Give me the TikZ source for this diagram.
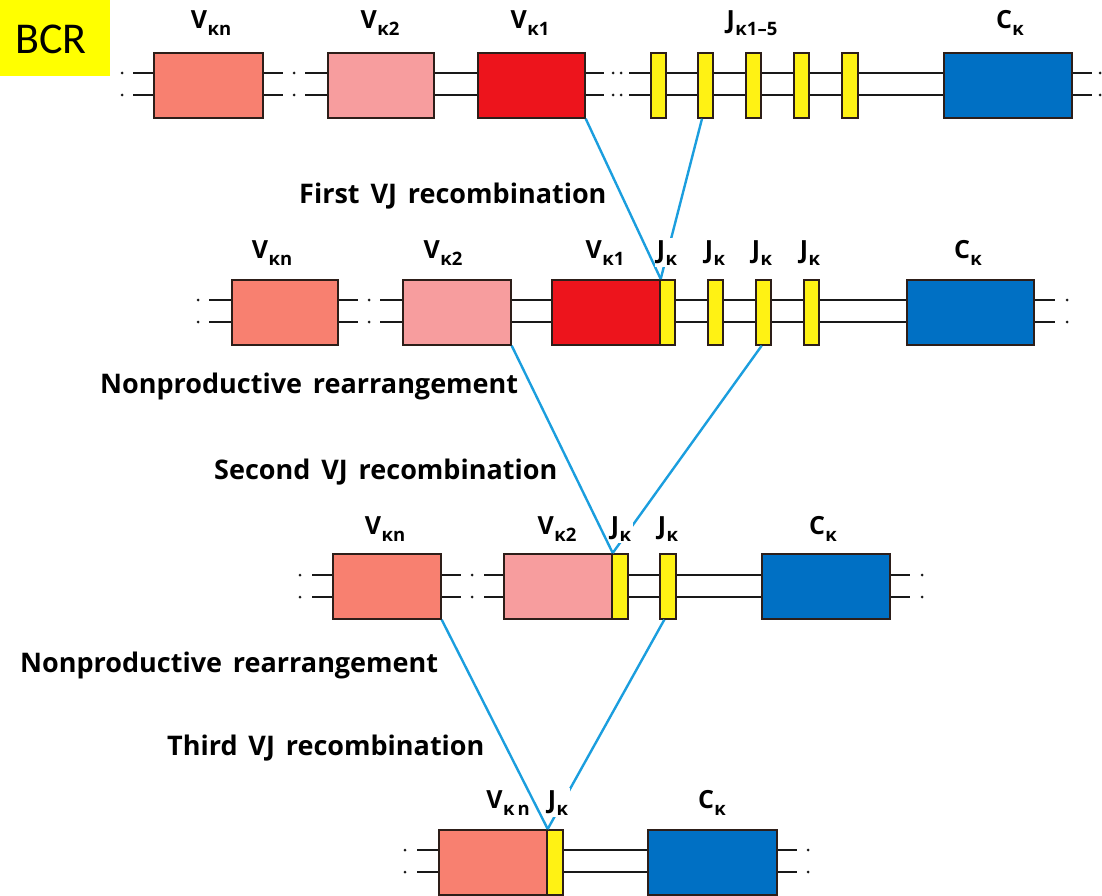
\documentclass[tikz,border=0pt]{standalone}
\usepackage{fontspec}
\setmainfont{Open Sans}
\newfontfamily\capfont[WordSpace=1.55]{Open Sans}
\newfontfamily\bcrfont{Carlito}
\usetikzlibrary{calc}

\definecolor{vnc}{RGB}{248,128,112}
\definecolor{vtwo}{RGB}{247,157,158}
\definecolor{vone}{RGB}{237,20,28}
\definecolor{jyel}{RGB}{255,242,20}
\definecolor{cblue}{RGB}{0,112,196}
\definecolor{recblue}{RGB}{27,158,222}
\definecolor{boxline}{RGB}{45,30,25}
\definecolor{tagyel}{RGB}{255,255,0}

\tikzset{
  gene/.style={draw=boxline, line width=1.7pt, inner sep=0pt, anchor=north west},
  strand/.style={draw=black!90, line width=1.9pt},
  rec/.style={draw=recblue, line width=2.4pt},
  gtxt/.style={font=\fontsize{25}{25}\selectfont\bfseries, inner sep=0.5pt, anchor=base},
  jtxt/.style={gtxt, fill=white, inner sep=2pt},
  phr/.style={font=\capfont\fontsize{27}{27}\selectfont\bfseries, anchor=base west, inner sep=0pt},
}

% gene segment box: name, colour, left, right, top
\newcommand\gbox[5]{\node[gene, fill=#2, minimum width={#4pt-#3pt}, minimum height=65pt] (#1) at (#3,#5) {};}
% gene name with lowered subscript
\newcommand\gsub[2]{#1\kern0.5pt\raisebox{-7pt}{\fontsize{18.5}{18.5}\selectfont #2}}
\newcommand\sdot[2]{\fill[black!90] (#1,#2) circle (1.5pt);}

\begin{document}
\begin{tikzpicture}[x=1pt,y=-1pt]
\useasboundingbox (0,0) rectangle (1102,896);

% ---------- BCR tag ----------
\fill[tagyel] (0,0) rectangle (110,76);
\node[font=\bcrfont\fontsize{44}{44}\selectfont, inner sep=0pt] (tag) at (51,39) {BCR};

% ---------- strands ----------
\foreach \y in {73,95} {
  \sdot{122}{\y}
  \draw[strand] (133,\y) -- (153,\y);
  \draw[strand] (262,\y) -- (283,\y);
  \sdot{294}{\y}
  \draw[strand] (305,\y) -- (327,\y);
  \draw[strand] (433,\y) -- (477,\y);
  \draw[strand] (584,\y) -- (604,\y);
  \sdot{613}{\y}
  \sdot{621}{\y}
  \draw[strand] (629,\y) -- (1092,\y);
  \sdot{1100}{\y}
}
\foreach \y in {300,322} {
  \sdot{198}{\y}
  \draw[strand] (209,\y) -- (231,\y);
  \draw[strand] (337,\y) -- (358,\y);
  \sdot{369}{\y}
  \draw[strand] (380,\y) -- (402,\y);
  \draw[strand] (510,\y) -- (1055,\y);
  \sdot{1067}{\y}
}
\foreach \y in {575,597} {
  \sdot{300}{\y}
  \draw[strand] (312,\y) -- (332,\y);
  \draw[strand] (440,\y) -- (461,\y);
  \sdot{472}{\y}
  \draw[strand] (484,\y) -- (503,\y);
  \draw[strand] (611,\y) -- (910,\y);
  \sdot{922}{\y}
}
\foreach \y in {850,872} {
  \sdot{405}{\y}
  \draw[strand] (417,\y) -- (438,\y);
  \draw[strand] (562,\y) -- (797,\y);
  \sdot{808}{\y}
}

% ---------- germline locus ----------
\gbox{ava}{vnc}{153}{262}{52}
\gbox{avb}{vtwo}{327}{433}{52}
\gbox{avc}{vone}{477}{584}{52}
\gbox{aja}{jyel}{650}{665}{52}
\gbox{ajb}{jyel}{697}{712}{52}
\gbox{ajc}{jyel}{745}{760}{52}
\gbox{ajd}{jyel}{793}{808}{52}
\gbox{aje}{jyel}{841}{857}{52}
\gbox{ac}{cblue}{943}{1071}{52}

% ---------- after first rearrangement ----------
\gbox{bva}{vnc}{231}{337}{279}
\gbox{bvb}{vtwo}{402}{510}{279}
\gbox{bvc}{vone}{551}{659}{279}
\gbox{bja}{jyel}{659}{674}{279}
\gbox{bjb}{jyel}{707}{722}{279}
\gbox{bjc}{jyel}{755}{770}{279}
\gbox{bjd}{jyel}{803}{818}{279}
\gbox{bc}{cblue}{906}{1033}{279}

% ---------- after second rearrangement ----------
\gbox{cva}{vnc}{332}{440}{553}
\gbox{cvb}{vtwo}{503}{611}{553}
\gbox{cja}{jyel}{611}{627}{553}
\gbox{cjb}{jyel}{659}{675}{553}
\gbox{cc}{cblue}{761}{889}{553}

% ---------- after third rearrangement ----------
\gbox{dva}{vnc}{438}{546}{829}
\gbox{dja}{jyel}{546}{562}{829}
\gbox{dc}{cblue}{647}{776}{829}

% ---------- recombination joins ----------
\draw[rec] (avc.south east) -- (bvc.north east);
\draw[rec] ($(ajb.south west)!0.3!(ajb.south east)$) -- (bvc.north east);
\draw[rec] (bvb.south east) -- (cvb.north east);
\draw[rec] ($(bjc.south west)!0.4!(bjc.south east)$) -- (cvb.north east);
\draw[rec] (cva.south east) -- (dva.north east);
\draw[rec] ($(cjb.south west)!0.3!(cjb.south east)$) -- (dva.north east);

% ---------- segment names ----------
\node[gtxt] (lava) at (211,29) {\gsub{V}{κn}};
\node[gtxt] (lavb) at (380,29) {\gsub{V}{κ2}};
\node[gtxt] (lavc) at (530,29) {\gsub{V}{κ1}};
\node[gtxt] (laj)  at (752,29) {\gsub{J}{κ1–5}};
\node[gtxt] (lac)  at (1010,29) {\gsub{C}{κ}};

\node[gtxt] (lbva) at (272,258) {\gsub{V}{κn}};
\node[gtxt] (lbvb) at (443,258) {\gsub{V}{κ2}};
\node[gtxt] (lbvc) at (605,258) {\gsub{V}{κ1}};
\node[jtxt] (lbja) at (667,258) {\gsub{J}{κ}};
\node[gtxt] (lbjb) at (715,258) {\gsub{J}{κ}};
\node[gtxt] (lbjc) at (762,258) {\gsub{J}{κ}};
\node[gtxt] (lbjd) at (810,258) {\gsub{J}{κ}};
\node[gtxt] (lbc)  at (968,258) {\gsub{C}{κ}};

\node[gtxt] (lcva) at (385,534) {\gsub{V}{κn}};
\node[gtxt] (lcvb) at (557,534) {\gsub{V}{κ2}};
\node[jtxt] (lcja) at (621,534) {\gsub{J}{κ}};
\node[gtxt] (lcjb) at (668,534) {\gsub{J}{κ}};
\node[gtxt] (lcc)  at (823,534) {\gsub{C}{κ}};

\node[gtxt] (ldva) at (508,808) {\gsub{V}{κ\,n}};
\node[jtxt] (ldja) at (558,808) {\gsub{J}{κ}};
\node[gtxt] (ldc)  at (712,808) {\gsub{C}{κ}};

% ---------- step captions ----------
\node[phr] (s1) at (299,204) {First VJ recombination};
\node[phr] (s2) at (100,393) {Nonproductive rearrangement};
\node[phr] (s3) at (214,479) {Second VJ recombination};
\node[phr] (s4) at (20,672) {Nonproductive rearrangement};
\node[phr] (s5) at (167,755) {Third VJ recombination};
\end{tikzpicture}
\end{document}
